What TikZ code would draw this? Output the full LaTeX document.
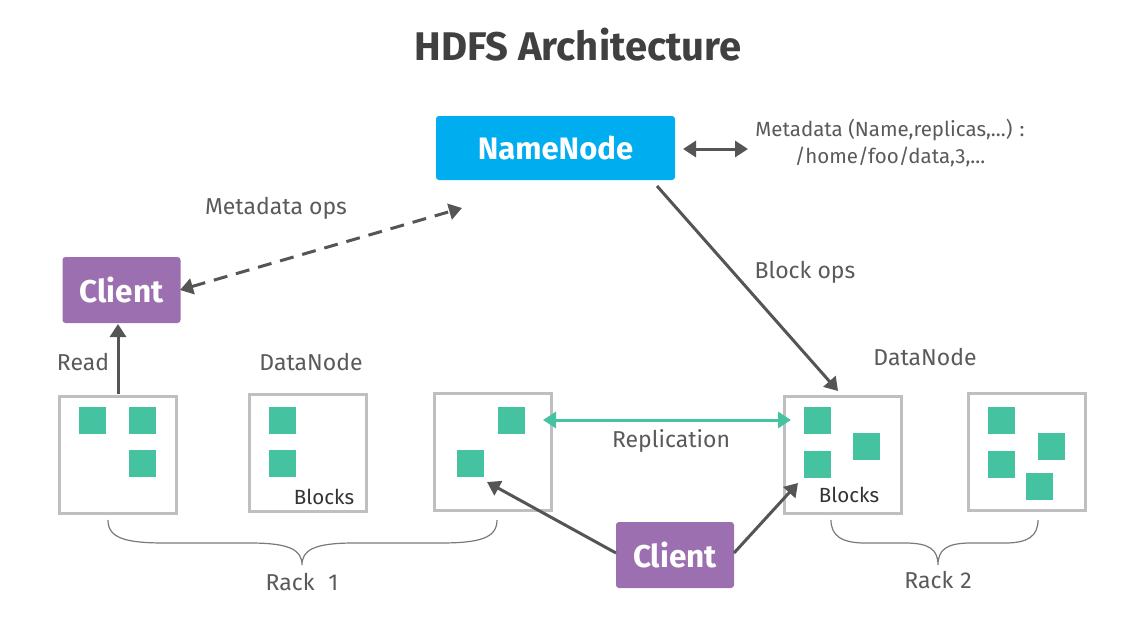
\documentclass[tikz,border=0pt]{standalone}
\usepackage{fontspec}
\setmainfont{Fira Sans}
\usetikzlibrary{arrows.meta,calc}
\definecolor{nncyan}{HTML}{00AEEF}
\definecolor{clpurple}{HTML}{9C70B0}
\definecolor{blk}{HTML}{45C3A1}
\definecolor{arr}{HTML}{555555}
\definecolor{txt}{HTML}{5A5A5A}
\definecolor{boxgray}{HTML}{BFBFBF}
\definecolor{bracegray}{HTML}{7A7A7A}
\begin{document}
\begin{tikzpicture}[x=1pt,y=-1pt,
  dn/.style={draw=boxgray, line width=3pt, fill=white, minimum width=117pt, minimum height=117pt, inner sep=0pt},
  blkbox/.style={fill=blk, minimum size=27pt, inner sep=0pt, draw=none},
  nnbox/.style={fill=nncyan, text=white, font=\fontsize{31}{36}\selectfont\bfseries, minimum width=239pt, minimum height=64pt, rounded corners=3pt, inner sep=0pt},
  clbox/.style={fill=clpurple, text=white, font=\fontsize{31.5}{36}\selectfont\bfseries, minimum width=118pt, minimum height=66pt, rounded corners=3pt, inner sep=0pt},
  lbl/.style={text=txt, font=\fontsize{23}{27}\selectfont, inner sep=0pt, align=center},
  blklbl/.style={text=black!80, font=\fontsize{20.5}{24}\selectfont, inner sep=0pt},
  darr/.style={draw=arr, line width=3pt, -{Triangle[length=13pt,width=16pt]}},
  ddarr/.style={draw=arr, line width=3pt, {Triangle[length=13pt,width=16pt]}-{Triangle[length=13pt,width=16pt]}},
  garr/.style={draw=blk, line width=3pt, {Triangle[length=13pt,width=16pt]}-{Triangle[length=13pt,width=16pt]}},
  bracestyle/.style={draw=bracegray, line width=1.2pt}
]
\useasboundingbox (0,0) rectangle (1130,630);
\fill[white] (0,0) rectangle (1130,630);

% title
\node[text=black!75, font=\fontsize{40}{48}\selectfont\bfseries, inner sep=0pt] (title) at (578,45) {HDFS Architecture};

% NameNode
\node[nnbox] (nn) at (555.5,148) {NameNode};
\node[lbl, font=\fontsize{20.5}{27}\selectfont] (meta) at (890,143) {Metadata (Name,replicas,...) :\\/home/foo/data,3,...};
\coordinate (nnr) at (683,149);
\coordinate (metal) at (748,149);
\draw[ddarr] (nnr) -- (metal);

% Client 1
\node[clbox] (c1) at (121.5,290) {Client};
\coordinate (c1r) at (180,290);
\coordinate (mtip) at (462,208);
\draw[ddarr, dash pattern=on 14pt off 9pt] (c1r) -- (mtip);
\node[lbl] (mops) at (276,208) {Metadata ops};

% DataNodes
\node[dn] (d1) at (118,455) {};
\node[dn] (d2) at (307.5,453) {};
\node[dn] (d3) at (493,452) {};
\node[dn] (d4) at (843,454.5) {};
\node[dn] (d5) at (1027,452) {};

\node[blkbox] (b11) at (92.5,420) {};
\node[blkbox] (b12) at (142,420) {};
\node[blkbox] (b13) at (142,463) {};
\node[blkbox] (b21) at (282,420) {};
\node[blkbox] (b22) at (282,463.5) {};
\node[blkbox] (b31) at (511.5,420) {};
\node[blkbox] (b32) at (470.5,463.5) {};
\node[blkbox] (b41) at (817,420) {};
\node[blkbox] (b42) at (817,464) {};
\node[blkbox] (b43) at (866.5,446) {};
\node[blkbox] (b51) at (1001.5,420) {};
\node[blkbox] (b52) at (1001.5,464) {};
\node[blkbox] (b53) at (1051.5,446) {};
\node[blkbox] (b54) at (1039.5,486) {};

\node[blklbl] (bl2) at (324,497) {Blocks};
\node[blklbl] (bl4) at (849,495) {Blocks};

\node[lbl] (dnl) at (311,362) {DataNode};
\node[lbl] (dnr) at (925,357) {DataNode};

% Read
\coordinate (d1top) at (118,394);
\coordinate (c1bot) at (118,324);
\draw[darr] (d1top) -- (c1bot);
\node[lbl] (read) at (83,362) {Read};

% Block ops
\coordinate (nnb) at (657,186);
\coordinate (d4top) at (838,391);
\draw[darr] (nnb) -- (d4top);
\node[lbl] (bops) at (805,272) {Block ops};

% Replication
\coordinate (rl) at (543,420);
\coordinate (rr) at (791,420);
\draw[garr] (rl) -- (rr);
\node[lbl] (repl) at (671,441) {Replication};

% Client 2
\node[clbox] (c2) at (675,555) {Client};
\coordinate (c2l) at (616,553);
\coordinate (c2r) at (734,553);
\coordinate (d3tip) at (487,482);
\coordinate (d4tip) at (798,483);
\draw[darr] (c2l) -- (d3tip);
\draw[darr] (c2r) -- (d4tip);

% Braces
\coordinate (r1l) at (108,520);
\coordinate (r1t) at (302,565);
\coordinate (r1r) at (497,520);
\draw[bracestyle] (r1l) .. controls (108,538) and (125,543) .. (165,543) -- (250,543) .. controls (290,543) and (302,550) .. (r1t) .. controls (302,550) and (314,543) .. (354,543) -- (440,543) .. controls (480,543) and (497,538) .. (r1r);
\node[lbl] (rack1) at (302,582) {Rack\hspace{0.6em}1};

\coordinate (r2l) at (831,520);
\coordinate (r2t) at (938,565);
\coordinate (r2r) at (1038,520);
\draw[bracestyle] (r2l) .. controls (831,536) and (842,543) .. (865,543) -- (905,543) .. controls (930,543) and (938,550) .. (r2t) .. controls (938,550) and (946,543) .. (971,543) -- (1005,543) .. controls (1028,543) and (1038,536) .. (r2r);
\node[lbl] (rack2) at (938,580) {Rack\hspace{0.3em}2};
\end{tikzpicture}
\end{document}
